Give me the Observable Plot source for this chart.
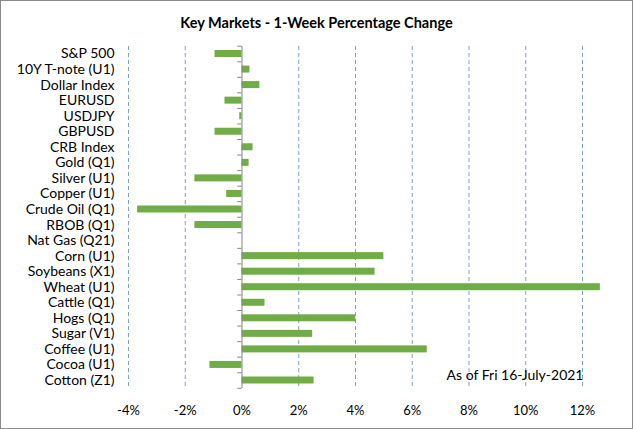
<!DOCTYPE html>
<html><head><meta charset="utf-8">
<script src="https://cdn.jsdelivr.net/npm/d3@7"></script>
<script src="https://cdn.jsdelivr.net/npm/@observablehq/plot@0.6"></script>
<style>
body{margin:0;background:#fff;}
#chart{width:631px;height:427px;border:1px solid #8c8c8c;background:#fff;font-family:Lato,"Open Sans",sans-serif;color:#000;overflow:hidden;}
#title{height:41px;line-height:44px;text-align:center;font-weight:bold;font-size:14.5px;}
</style></head>
<body>
<div id="chart"><div id="title">Key Markets - 1-Week Percentage Change</div></div>
<script>
const markets = ["S&P 500","10Y T-note (U1)","Dollar Index","EURUSD","USDJPY","GBPUSD","CRB Index","Gold (Q1)","Silver (U1)","Copper (U1)","Crude Oil (Q1)","RBOB (Q1)","Nat Gas (Q21)","Corn (U1)","Soybeans (X1)","Wheat (U1)","Cattle (Q1)","Hogs (Q1)","Sugar (V1)","Coffee (U1)","Cocoa (U1)","Cotton (Z1)"];
const changes = [-0.95,0.28,0.63,-0.6,-0.08,-0.95,0.39,0.25,-1.66,-0.54,-3.68,-1.66,0,5.0,4.69,12.63,0.81,4.01,2.49,6.53,-1.13,2.54];
const gridTicks = [-4,-2,2,4,6,8,10,12];
const axisTicks = [-4,-2,0,2,4,6,8,10,12];
const note = "As of Fri 16-July-2021";

const data = markets.map((m,i)=>({market:m, change:changes[i]}));
const H = 386, mTop = 4, mBottom = 40;
const firstC = 11.5, lastC = 338;
const step = (lastC - firstC) / (markets.length - 1);
const pad = 0.55;
const off = step * (pad + (1 - pad) / 2);

const plot = Plot.plot({
  width: 631, height: H,
  marginLeft: 127, marginRight: 50, marginTop: mTop, marginBottom: mBottom,
  style: {fontFamily: "Lato, 'Open Sans', sans-serif", fontSize: "13px", color: "#000", background: "#fff"},
  x: {domain: [-4, 12], ticks: axisTicks, tickFormat: d => d + "%", tickSize: 0, tickPadding: 17, label: null},
  y: {domain: markets, padding: pad, round: false, range: [firstC - off, lastC + off], label: null, axis: null},
  marks: [
    Plot.ruleX(gridTicks, {stroke: "#7f9fcf", strokeDasharray: "4,3", strokeWidth: 1}),
    Plot.barX(data, {y: "market", x1: 0, x2: "change", fill: "#70ad47"}),
    Plot.axisY({tickSize: 0, tickPadding: 14, fontSize: 14, label: null}),
    Plot.ruleY(markets, {y: d => d, x1: -0.15, x2: 0, dy: -step/2, stroke: "#868686"}),
    Plot.ruleY(markets.slice(-1), {y: d => d, x1: -0.15, x2: 0, dy: step/2, stroke: "#868686"}),
    Plot.ruleX([0], {stroke: "#868686", strokeWidth: 1}),
    Plot.text([note], {frameAnchor: "bottom-right", textAnchor: "end", lineAnchor: "middle", dx: 1, dy: -13, fontSize: 14, fill: "#000"})
  ]
});
document.getElementById("chart").appendChild(plot);
</script>
</body></html>
